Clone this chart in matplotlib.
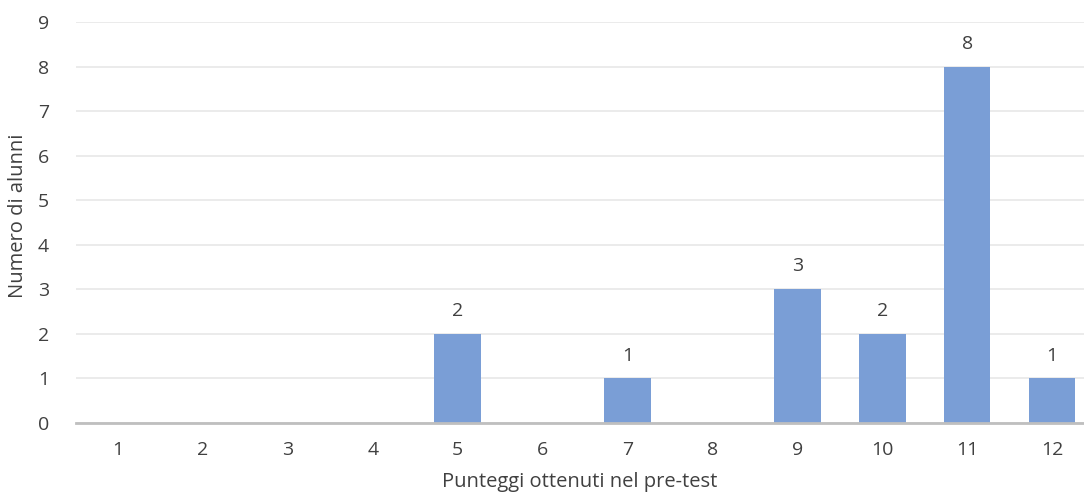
import matplotlib
matplotlib.use("Agg")
import matplotlib.pyplot as plt

# Data
scores = [1, 2, 3, 4, 5, 6, 7, 8, 9, 10, 11, 12]
counts = [0, 0, 0, 0, 2, 0, 1, 0, 3, 2, 8, 1]
y_ticks = list(range(0, 10))

BAR_COLOR = "#7A9ED6"
TEXT_COLOR = "#404040"

plt.rcParams["font.family"] = ["Open Sans", "DejaVu Sans"]

fig = plt.figure(figsize=(10.84, 5.01), dpi=100)
W, H = 1084, 501
# axes in pixel coords: left 75.5, right 1094.5, top 22, bottom 423
ax = fig.add_axes([75.5 / W, 1 - 423 / H, (1094.5 - 75.5) / W, (423 - 22) / H])

x = list(range(len(scores)))
ax.bar(x, counts, width=0.55, color=BAR_COLOR, zorder=3)

for xi, c in zip(x, counts):
    if c > 0:
        ax.annotate(str(c), (xi, c), xytext=(0, 10), textcoords="offset points",
                    ha="center", va="bottom", fontsize=14, color=TEXT_COLOR)

ax.set_xlim(-0.5, len(scores) - 0.5)
ax.set_ylim(0, 9)
ax.set_yticks(y_ticks)
ax.set_xticks(x)
ax.set_xticklabels([str(s) for s in scores])
ax.grid(axis="y", color="#E8E8E8", linewidth=1.2, zorder=0)

for side in ["top", "right", "left"]:
    ax.spines[side].set_visible(False)
ax.spines["bottom"].set_color("#BFBFBF")
ax.spines["bottom"].set_linewidth(2)
ax.spines["bottom"].set_zorder(4)

ax.tick_params(axis="both", length=0, labelsize=14, colors=TEXT_COLOR)
ax.tick_params(axis="x", pad=13)
ax.tick_params(axis="y", pad=19)

ax_w = 1094.5 - 75.5
ax_h = 423 - 22
ax.set_xlabel("Punteggi ottenuti nel pre-test", fontsize=14.5, color=TEXT_COLOR)
ax.xaxis.set_label_coords((580 - 75.5) / ax_w, -(472 - 423) / ax_h)
fig.text(18 / W, 1 - 216 / H, "Numero di alunni", rotation=90, ha="center",
         va="center", fontsize=14.5, color=TEXT_COLOR)

fig.savefig("out.png", dpi=100)
